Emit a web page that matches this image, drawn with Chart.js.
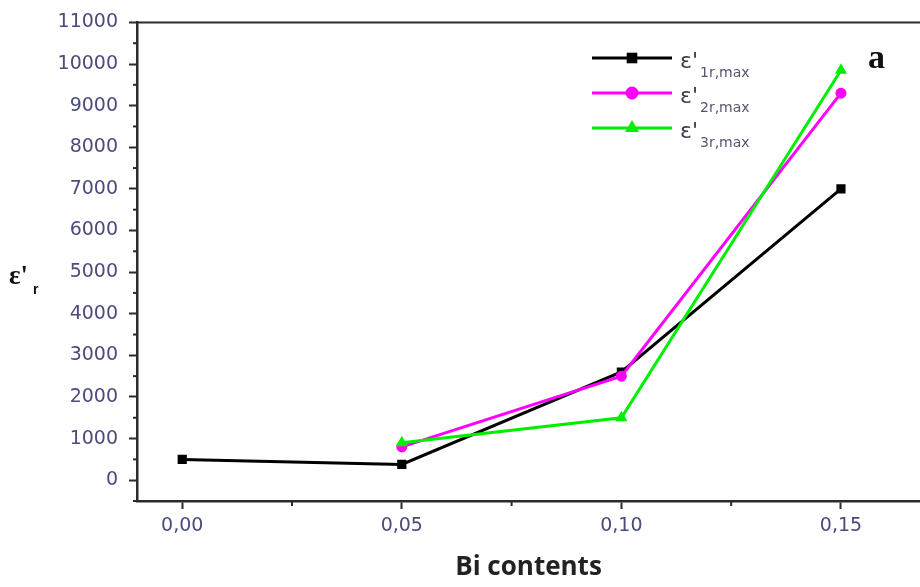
<!DOCTYPE html>
<html>
<head>
<meta charset="utf-8">
<script src="https://cdn.jsdelivr.net/npm/chart.js@4.4.1/dist/chart.umd.min.js"></script>
<style>
  html, body { margin: 0; padding: 0; background: #fff; }
  #wrap { width: 920px; height: 587px; }
</style>
</head>
<body>
<div id="wrap"><canvas id="chart"></canvas></div>
<script>
// DATA
const biContents = [0.00, 0.05, 0.10, 0.15];
const eps1rMax = [500, 380, 2600, 7000];
const eps2rMax = [null, 800, 2500, 9300];
const eps3rMax = [null, 900, 1500, 9850];
const seriesSubs = ['1r,max', '2r,max', '3r,max'];
const xTickValues = [0.00, 0.05, 0.10, 0.15];
const yTickValues = [0, 1000, 2000, 3000, 4000, 5000, 6000, 7000, 8000, 9000, 10000, 11000];

const TICK_COLOR = '#4b4b7d';
const AXIS_COLOR = '#2b2b2b';

function toPoints(vals) {
  return biContents.map((x, i) => ({ x: x, y: vals[i] })).filter(p => p.y !== null);
}

// legend with subscripts, minor ticks, top frame, y title, panel letter
const decorPlugin = {
  id: 'decor',
  afterDraw(chart) {
    const ctx = chart.ctx;
    const area = chart.chartArea;
    const xs = chart.scales.x;
    const ys = chart.scales.y;

    ctx.save();
    // top frame line
    ctx.strokeStyle = AXIS_COLOR;
    ctx.lineWidth = 2;
    ctx.beginPath();
    ctx.moveTo(area.left, area.top);
    ctx.lineTo(area.right, area.top);
    ctx.stroke();

    // minor ticks halfway between majors
    for (let i = 0; i < yTickValues.length; i++) {
      const v = yTickValues[i] - 500;
      if (v < ys.min) continue;
      const py = ys.getPixelForValue(v);
      ctx.beginPath();
      ctx.moveTo(area.left - 4, py);
      ctx.lineTo(area.left, py);
      ctx.stroke();
    }
    for (let i = 0; i < xTickValues.length; i++) {
      const v = xTickValues[i] + 0.025;
      if (v > xs.max) continue;
      const px = xs.getPixelForValue(v);
      ctx.beginPath();
      ctx.moveTo(px, area.bottom);
      ctx.lineTo(px, area.bottom + 5);
      ctx.stroke();
    }

    // legend rows: black, magenta, green
    const rows = [
      { ds: 2, y: 58 },
      { ds: 1, y: 93 },
      { ds: 0, y: 128 }
    ];
    rows.forEach((r, i) => {
      const ds = chart.data.datasets[r.ds];
      ctx.strokeStyle = ds.borderColor;
      ctx.fillStyle = ds.borderColor;
      ctx.lineWidth = ds.borderWidth;
      ctx.beginPath();
      ctx.moveTo(592, r.y);
      ctx.lineTo(672, r.y);
      ctx.stroke();
      Chart.helpers.drawPoint(ctx, {
        pointStyle: ds.pointStyle,
        radius: ds.pointRadius + 1,
        borderWidth: 0,
        rotation: 0
      }, 632, r.y);

      ctx.fillStyle = '#3a3a4a';
      ctx.font = '22px "DejaVu Sans"';
      ctx.textAlign = 'left';
      ctx.textBaseline = 'alphabetic';
      ctx.fillText("\u03b5'", 680, r.y + 10);
      ctx.fillStyle = '#555570';
      ctx.font = '14px "DejaVu Sans"';
      ctx.fillText(seriesSubs[i], 700, r.y + 19);
    });

    // y axis title
    ctx.fillStyle = '#111';
    ctx.font = 'bold 27px "Liberation Serif"';
    ctx.fillText("\u03b5'", 9, 284);
    ctx.font = 'bold 14px "Liberation Sans"';
    ctx.fillText('r', 33, 294);

    // panel letter
    ctx.font = 'bold 34px "Liberation Serif"';
    ctx.fillText('a', 868, 68);
    ctx.restore();
  }
};

const ctx = document.getElementById('chart').getContext('2d');
new Chart(ctx, {
  type: 'line',
  data: {
    // first dataset is drawn on top
    datasets: [
      {
        label: "\u03b5'3r,max",
        data: toPoints(eps3rMax),
        borderColor: '#00ee00',
        backgroundColor: '#00ee00',
        borderWidth: 3,
        pointStyle: 'triangle',
        pointRadius: 7,
        pointBorderWidth: 0,
        tension: 0
      },
      {
        label: "\u03b5'2r,max",
        data: toPoints(eps2rMax),
        borderColor: '#ff00ff',
        backgroundColor: '#ff00ff',
        borderWidth: 3,
        pointStyle: 'circle',
        pointRadius: 5.5,
        pointBorderWidth: 0,
        tension: 0
      },
      {
        label: "\u03b5'1r,max",
        data: toPoints(eps1rMax),
        borderColor: '#000000',
        backgroundColor: '#000000',
        borderWidth: 3,
        pointStyle: 'rect',
        pointRadius: 6.5,
        pointBorderWidth: 0,
        tension: 0
      }
    ]
  },
  options: {
    responsive: true,
    maintainAspectRatio: false,
    animation: false,
    layout: { autoPadding: false, padding: { left: 0, right: 0, top: 19, bottom: 0 } },
    plugins: {
      legend: { display: false },
      tooltip: { enabled: false }
    },
    scales: {
      x: {
        type: 'linear',
        min: -0.0103,
        max: 0.168,
        afterBuildTicks: s => { s.ticks = xTickValues.map(v => ({ value: v })); },
        afterFit: s => { s.height = 86; },
        ticks: {
          color: TICK_COLOR,
          font: { family: '"DejaVu Sans"', size: 19 },
          padding: 6,
          maxRotation: 0,
          callback: v => v.toFixed(2).replace('.', ',')
        },
        grid: {
          drawOnChartArea: false,
          drawTicks: true,
          tickLength: 8,
          tickWidth: 2,
          tickColor: AXIS_COLOR
        },
        border: { color: AXIS_COLOR, width: 2.5 },
        title: {
          display: true,
          text: 'Bi contents',
          color: '#222',
          font: { family: '"Open Sans"', size: 26, weight: 'bold' },
          padding: { top: 0, bottom: 4 }
        }
      },
      y: {
        type: 'linear',
        min: -500,
        max: 11000,
        afterBuildTicks: s => { s.ticks = yTickValues.map(v => ({ value: v })); },
        afterFit: s => { s.width = 137; },
        ticks: {
          color: TICK_COLOR,
          font: { family: '"DejaVu Sans"', size: 19 },
          padding: 11,
          callback: v => String(v)
        },
        grid: {
          drawOnChartArea: false,
          drawTicks: true,
          tickLength: 8,
          tickWidth: 2,
          tickColor: AXIS_COLOR
        },
        border: { color: AXIS_COLOR, width: 2.5 }
      }
    }
  },
  plugins: [decorPlugin]
});
</script>
</body>
</html>
